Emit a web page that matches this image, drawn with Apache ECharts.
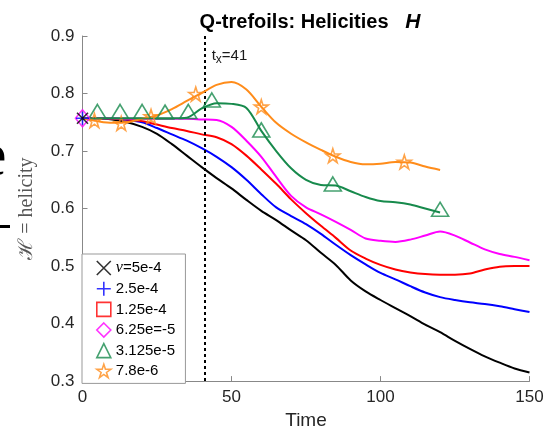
<!DOCTYPE html>
<html>
<head>
<meta charset="utf-8">
<script src="https://cdn.jsdelivr.net/npm/echarts@6/dist/echarts.min.js"></script>
<style>
html, body { margin: 0; padding: 0; background: #fff; }
#chart { width: 556px; height: 435px; }
</style>
</head>
<body>
<div id="chart"></div>
<script>
// time grid of the curves
var times = [0, 5, 10, 15, 20, 25, 30, 35, 40, 45, 50, 55, 60, 65, 70, 75, 80, 85, 90, 95, 100,
             105, 110, 115, 120, 125, 130, 135, 140, 145, 150];

// helicity curves
var black = [0.757, 0.757, 0.755, 0.750, 0.742, 0.730, 0.712, 0.692, 0.672, 0.653, 0.635, 0.615, 0.596, 0.580, 0.562, 0.545,
             0.523, 0.502, 0.475, 0.456, 0.441, 0.427, 0.413, 0.398, 0.385, 0.370, 0.356, 0.343, 0.332, 0.322, 0.315];
var blue = [0.757, 0.757, 0.756, 0.754, 0.750, 0.740, 0.729, 0.718, 0.705, 0.690, 0.672, 0.650, 0.625, 0.602, 0.587, 0.573,
            0.556, 0.537, 0.519, 0.503, 0.488, 0.477, 0.465, 0.454, 0.446, 0.441, 0.437, 0.434, 0.430, 0.425, 0.420];
var red = [0.757, 0.757, 0.756, 0.755, 0.752, 0.746, 0.740, 0.735, 0.729, 0.724, 0.712, 0.692, 0.668, 0.643, 0.616, 0.592,
           0.570, 0.549, 0.527, 0.513, 0.502, 0.494, 0.489, 0.486, 0.485, 0.485, 0.487, 0.494, 0.499, 0.500, 0.500];
var magenta = [0.757, 0.757, 0.757, 0.756, 0.756, 0.756, 0.756, 0.756, 0.755, 0.754, 0.742, 0.718, 0.690, 0.655, 0.622, 0.602,
               0.590, 0.577, 0.563, 0.548, 0.544, 0.542, 0.546, 0.553, 0.560, 0.553, 0.541, 0.529, 0.521, 0.516, 0.510];
// these two stop at t = 120
var green = [0.757, 0.757, 0.757, 0.757, 0.757, 0.757, 0.757, 0.758, 0.774, 0.783, 0.782, 0.775, 0.735, 0.700, 0.670, 0.650,
             0.641, 0.640, 0.630, 0.620, 0.613, 0.611, 0.607, 0.600, 0.593];
var orange = [0.757, 0.752, 0.749, 0.750, 0.756, 0.762, 0.773, 0.787, 0.801, 0.815, 0.820, 0.807, 0.777, 0.749, 0.730, 0.715,
              0.702, 0.690, 0.681, 0.677, 0.678, 0.681, 0.680, 0.673, 0.667];

// marker positions (time, value)
var blackMarkT = [0], blackMarkV = [0.757];
var blueMarkT = [0], blueMarkV = [0.757];
var redMarkT = [], redMarkV = [];
var magentaMarkT = [0], magentaMarkV = [0.757];
var greenMarkT = [5, 12.6, 20, 27.7, 35.5, 43.4, 60, 84, 120];
var greenMarkV = [0.767, 0.767, 0.767, 0.766, 0.767, 0.787, 0.735, 0.641, 0.597];
var orangeMarkT = [4, 13, 23, 38, 60, 84, 108];
var orangeMarkV = [0.753, 0.748, 0.760, 0.799, 0.777, 0.692, 0.681];

var legendNames = ['ν=5e-4', '2.5e-4', '1.25e-4', '6.25e=-5', '3.125e-5', '7.8e-6'];
var tCross = 41;

var colors = ['#000000', '#0000ff', '#ff0000', '#ff00ff', '#178a4c', '#ff8c1a'];
var symX = 'path://M0,0L10,10M10,0L0,10';
var symPlus = 'path://M5,0L5,10M0,5L10,5';
var symStar = 'path://M50,0L61.2,34.5L97.6,34.5L68.2,55.9L79.4,90.5L50,69.1L20.6,90.5L31.8,55.9L2.4,34.5L38.8,34.5Z';
var symbols = [symX, symPlus, 'rect', 'diamond', 'triangle', symStar];
var symSizes = [11, 13, 12, [14, 17], [17, 14], 14];
var symOffsets = [[0, 0], [0, 0], [0, 0], [0, 0], [0, -1], [0, 0]];

function pairs(ts, vs) {
    return vs.map(function (v, i) { return [ts[i], v]; });
}

var curves = [black, blue, red, magenta, green, orange];
var markT = [blackMarkT, blueMarkT, redMarkT, magentaMarkT, greenMarkT, orangeMarkT];
var markV = [blackMarkV, blueMarkV, redMarkV, magentaMarkV, greenMarkV, orangeMarkV];

var series = [];
curves.forEach(function (vals, k) {
    var s = {
        name: 'curve' + k,
        type: 'line',
        data: pairs(times, vals),
        showSymbol: false,
        smooth: 0.3,
        lineStyle: { color: colors[k], width: 2 },
        itemStyle: { color: colors[k] },
        z: 2 + k,
        silent: true
    };
    if (k === 0) {
        // dotted line at the crossing time
        s.markLine = {
            symbol: 'none',
            silent: true,
            label: { show: false },
            lineStyle: { color: '#000', type: [3, 3], width: 2 },
            data: [{ xAxis: tCross }]
        };
        s.markPoint = {
            symbol: 'circle',
            symbolSize: 0,
            silent: true,
            data: [{ coord: [tCross, 0.866] }],
            label: {
                show: true,
                position: 'right',
                distance: 7,
                formatter: '{a|t}{b|x}{a|=' + tCross + '}',
                rich: {
                    a: { fontSize: 15, color: '#1a1a1a', fontFamily: 'Liberation Sans, Arial, sans-serif' },
                    b: { fontSize: 12, color: '#1a1a1a', padding: [9, 0, 0, 0], fontFamily: 'Liberation Sans, Arial, sans-serif' }
                }
            }
        };
    }
    series.push(s);
});
// markers, drawn so that magenta sits under blue and black at t = 0
var markOrder = [5, 4, 3, 2, 1, 0];
markOrder.forEach(function (k) {
    series.push({
        name: legendNames[k],
        type: 'scatter',
        data: pairs(markT[k], markV[k]),
        symbol: symbols[k],
        symbolSize: symSizes[k],
        symbolOffset: symOffsets[k],
        clip: false,
        itemStyle: { color: 'rgba(0,0,0,0)', borderColor: colors[k], borderWidth: 1.6 },
        z: 10 + (5 - k),
        silent: true
    });
});

var chart = echarts.init(document.getElementById('chart'));
var axisGray = '#888888';
var labelColor = '#262626';
var sans = 'Liberation Sans, Arial, Helvetica, sans-serif';

chart.setOption({
    animation: false,
    backgroundColor: '#fff',
    title: {
        text: 'Q-trefoils: Helicities   {h|H}',
        left: 305,
        top: 7,
        textAlign: 'center',
        textStyle: {
            fontFamily: sans,
            fontSize: 20,
            fontWeight: 'bold',
            color: '#000',
            rich: { h: { fontFamily: sans, fontSize: 21, fontWeight: 'bold', fontStyle: 'italic', color: '#000' } }
        }
    },
    grid: { left: 82.5, right: 26.5, top: 36, bottom: 49 },
    legend: {
        data: legendNames.map(function (n, k) {
            return {
                name: n,
                icon: symbols[k],
                itemStyle: { color: 'rgba(0,0,0,0)', borderColor: colors[k], borderWidth: 1.6 }
            };
        }),
        orient: 'vertical',
        left: 82,
        top: 254,
        padding: [6, 10, 5, 14],
        itemWidth: 14,
        itemHeight: 14,
        itemGap: 5,
        itemTextGap: 12,
        backgroundColor: '#fff',
        borderColor: '#999',
        borderWidth: 1,
        selectedMode: false,
        formatter: function (n) {
            if (n.charAt(0) === 'ν') {
                return '{nu|ν}' + n.slice(1);
            }
            return n;
        },
        textStyle: {
            fontFamily: sans,
            fontSize: 15,
            color: '#000',
            rich: {
                nu: { fontFamily: 'Liberation Serif, DejaVu Serif, serif', fontStyle: 'italic', fontSize: 16, color: '#000' }
            }
        }
    },
    xAxis: {
        type: 'value',
        min: 0,
        max: 150,
        interval: 50,
        name: 'Time',
        nameLocation: 'middle',
        nameGap: 29,
        nameTextStyle: { fontFamily: sans, fontSize: 19, color: labelColor },
        axisLine: { show: true, lineStyle: { color: axisGray, width: 1 } },
        axisTick: { show: true, inside: true, length: 5, lineStyle: { color: axisGray } },
        axisLabel: { fontFamily: sans, fontSize: 17, color: labelColor, margin: 8 },
        splitLine: { show: false }
    },
    yAxis: {
        type: 'value',
        min: 0.3,
        max: 0.9,
        interval: 0.1,
        name: 'ℋ = helicity',
        nameLocation: 'middle',
        nameGap: 46,
        nameTextStyle: { fontFamily: 'Liberation Serif, DejaVu Serif, serif', fontSize: 20, color: '#555' },
        axisLine: { show: true, lineStyle: { color: axisGray, width: 1 } },
        axisTick: { show: true, inside: true, length: 5, lineStyle: { color: axisGray } },
        axisLabel: {
            fontFamily: sans, fontSize: 17, color: labelColor, margin: 8,
            formatter: function (v) { return v.toFixed(1); }
        },
        splitLine: { show: false }
    },
    graphic: [
        // pieces of a cut-off label at the left edge of the picture
        { type: 'text', left: -21, top: 128, style: { text: 'e', font: '62px "Liberation Serif", serif', fill: '#000' } },
        { type: 'rect', left: 0, top: 225, shape: { width: 10, height: 3 }, style: { fill: '#000' } }
    ],
    series: series
});
</script>
</body>
</html>
